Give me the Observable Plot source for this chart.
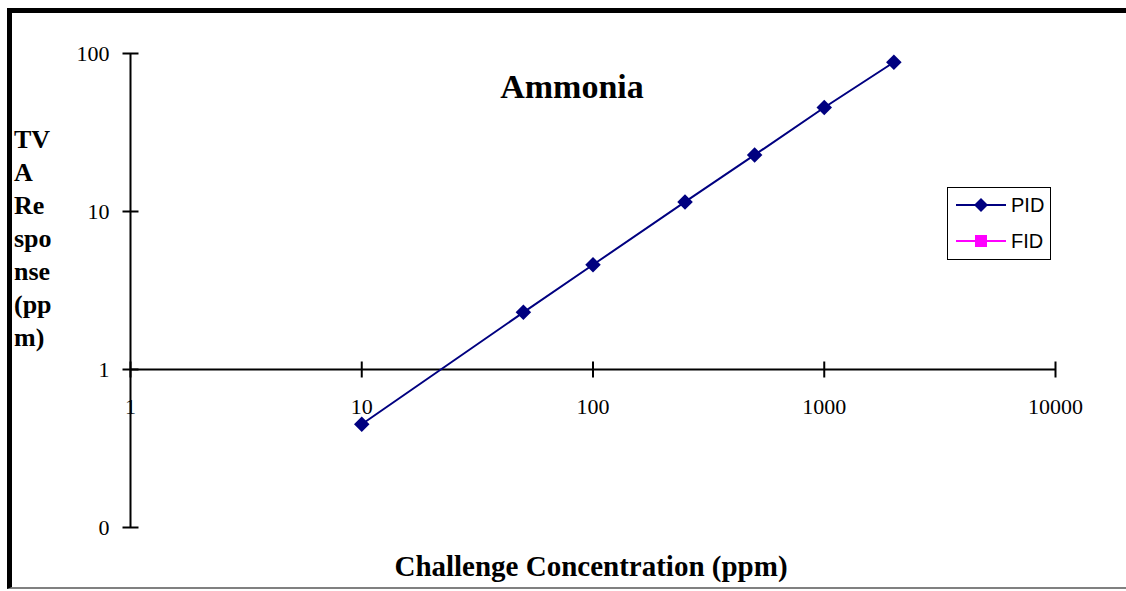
<!DOCTYPE html>
<html>
<head>
<meta charset="utf-8">
<script src="https://cdn.jsdelivr.net/npm/d3@7"></script>
<script src="https://cdn.jsdelivr.net/npm/@observablehq/plot@0.6"></script>
<style>
  html, body { margin: 0; padding: 0; background: #fff; }
  #wrap { position: relative; width: 1126px; height: 591px; overflow: hidden; background: #fff; }
  #chart { position: absolute; left: 0; top: 0; }
  .border { position: absolute; left: 7px; top: 8px; width: 1130px; height: 581px;
            border-top: 5px solid #000; border-left: 5px solid #000; border-bottom: 2px solid #808080; box-sizing: border-box; }
  .title { position: absolute; left: 422px; width: 300px; top: 68px; text-align: center;
           font-family: "Liberation Serif", "Times New Roman", serif; font-weight: bold; font-size: 34px; }
  .xtitle { position: absolute; left: 241px; width: 700px; top: 550px; text-align: center;
           font-family: "Liberation Serif", "Times New Roman", serif; font-weight: bold; font-size: 29px; }
  .ytitle { position: absolute; left: 14px; top: 123px; width: 70px;
           font-family: "Liberation Serif", "Times New Roman", serif; font-weight: bold; font-size: 26px; line-height: 33px; }
  .legend { position: absolute; left: 947px; top: 187px; width: 104px; height: 73px; border: 1px solid #000; box-sizing: border-box;
            font-family: "Liberation Sans", Arial, sans-serif; font-size: 20px; }
  .legend .row { position: absolute; left: 6px; height: 24px; display: flex; align-items: center; }
  .legend svg { display: block; }
  .legend span { margin-left: 3px; }
</style>
</head>
<body>
<div id="wrap">
  <div class="border"></div>
  <div id="chart"></div>
  <div class="title">Ammonia</div>
  <div class="ytitle">TV<br>A<br>Re<br>spo<br>nse<br>(pp<br>m)</div>
  <div class="xtitle">Challenge Concentration (ppm)</div>
  <div class="legend">
    <div class="row" style="top:5px">
      <svg width="54" height="24"><line x1="2" y1="12" x2="52" y2="12" stroke="#000080" stroke-width="2"/><path d="M27 5 L34 12 L27 19 L20 12 Z" fill="#000080"/></svg>
      <span>PID</span>
    </div>
    <div class="row" style="top:41px">
      <svg width="54" height="24"><line x1="2" y1="12" x2="52" y2="12" stroke="#FF00FF" stroke-width="2"/><rect x="21" y="6" width="12" height="12" fill="#FF00FF"/></svg>
      <span>FID</span>
    </div>
  </div>
</div>
<script>
// Data
const concentrations = [10, 50, 100, 250, 500, 1000, 2000];
const pidResponse = [0.45, 2.3, 4.6, 11.5, 22.8, 45.5, 88];
const fidResponse = []; // FID series shown only in legend
const xTicks = [1, 10, 100, 1000, 10000];
const xTickLabels = ["1", "10", "100", "1000", "10000"];
const yTicks = [0.1, 1, 10, 100];
const yTickLabels = ["0", "1", "10", "100"];

const pid = concentrations.map((c, i) => ({x: c, y: pidResponse[i]}));
const xt = xTicks.map((v, i) => ({v, label: xTickLabels[i]}));
const yt = yTicks.map((v, i) => ({v, label: yTickLabels[i]}));

const vTick = {draw(ctx) { ctx.moveTo(0, -8); ctx.lineTo(0, 8); }};
const hTick = {draw(ctx) { ctx.moveTo(-8, 0); ctx.lineTo(8, 0); }};
const serif = "Liberation Serif, Times New Roman, serif";

const chart = Plot.plot({
  width: 1126,
  height: 591,
  marginLeft: 130,
  marginRight: 71,
  marginTop: 53,
  marginBottom: 64,
  x: {type: "log", domain: [1, 10000], axis: null},
  y: {type: "log", domain: [0.1, 100], axis: null},
  style: {background: "transparent", overflow: "visible"},
  marks: [
    Plot.ruleX([1], {y1: 0.1, y2: 100, stroke: "#000", strokeWidth: 2}),
    Plot.ruleY([1], {x1: 1, x2: 10000, stroke: "#000", strokeWidth: 2}),
    Plot.dot(xt, {x: "v", y: () => 1, symbol: vTick, stroke: "#000", strokeWidth: 2, fill: "none"}),
    Plot.dot(yt, {x: () => 1, y: "v", symbol: hTick, stroke: "#000", strokeWidth: 2, fill: "none"}),
    Plot.text(xt, {x: "v", y: () => 1, text: "label", dy: 37, fontSize: 22, fontFamily: serif, fill: "#000"}),
    Plot.text(yt, {x: () => 1, y: "v", text: "label", dx: -21, textAnchor: "end", fontSize: 22, fontFamily: serif, fill: "#000"}),
    Plot.line(pid, {x: "x", y: "y", stroke: "#000080", strokeWidth: 2}),
    Plot.dot(pid, {x: "x", y: "y", symbol: "diamond2", r: 7, fill: "#000080"})
  ]
});
document.getElementById("chart").appendChild(chart);
</script>
</body>
</html>
